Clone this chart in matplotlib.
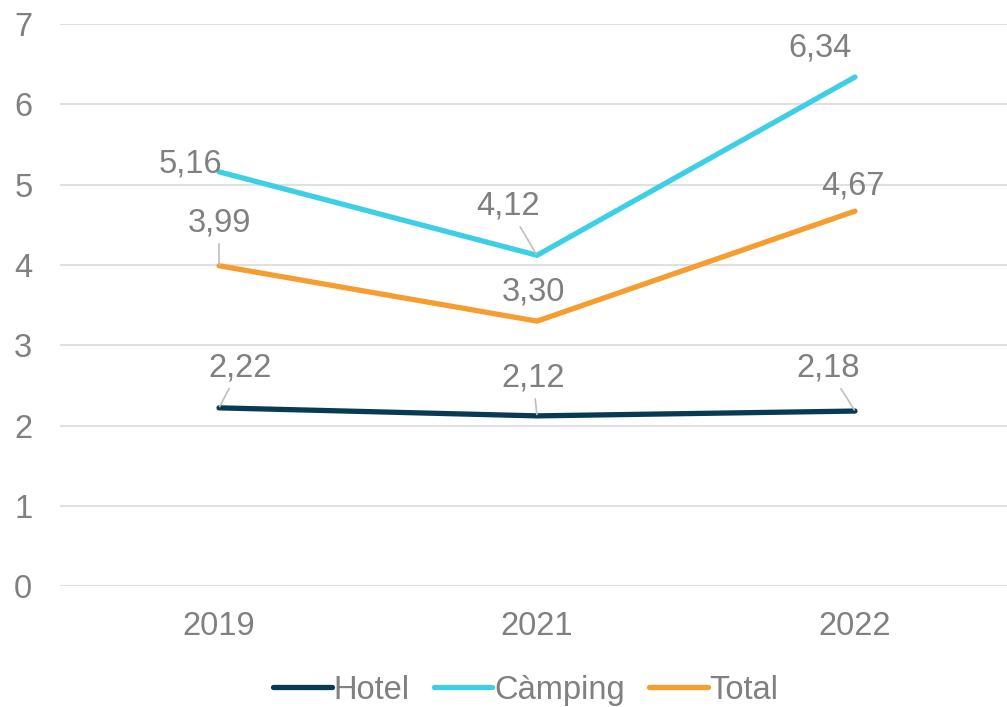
import matplotlib.pyplot as plt

plt.rcParams["font.family"] = ["Liberation Sans", "DejaVu Sans"]

years = ["2019", "2021", "2022"]
hotel = [2.22, 2.12, 2.18]
camping = [5.16, 4.12, 6.34]
total = [3.99, 3.30, 4.67]

series = [
    ("Hotel", hotel, "#073b52"),
    ("Càmping", camping, "#3ccfe6"),
    ("Total", total, "#f59d2f"),
]

# label offsets in pixels (dx, dy) and whether to draw a leader line
label_pos = {
    "Hotel": [(21, 40, True), (-4, 38, True), (-27, 43, True)],
    "Càmping": [(-29, 8, False), (-29, 49, True), (-35, 29, False)],
    "Total": [(0, 43, True), (-4, 29, False), (-2, 25, False)],
}

grey = "#808080"
fs = 23.5

fig = plt.figure(figsize=(10.07, 7.07), dpi=100)
ax = fig.add_axes([0.0596, 0.171, 0.9404, 0.795])

x = list(range(len(years)))
for name, vals, color in series:
    ax.plot(x, vals, color=color, lw=3.8, solid_capstyle="round",
            solid_joinstyle="miter", label=name, zorder=3)
    for xi, v, (dx, dy, leader) in zip(x, vals, label_pos[name]):
        arrow = None
        if leader:
            arrow = dict(arrowstyle="-", color="#bfbfbf", lw=1.2,
                         shrinkA=2, shrinkB=1)
        ax.annotate(f"{v:.2f}".replace(".", ","), (xi, v),
                    xytext=(dx, dy), textcoords="offset pixels",
                    ha="center", va="center", fontsize=fs, color=grey,
                    arrowprops=arrow, zorder=4)

ax.set_xlim(-0.5, 2.478)
ax.set_ylim(0, 7)
ax.set_xticks(x)
ax.set_xticklabels(years)
ax.set_yticks(range(0, 8))
ax.tick_params(axis="both", length=0, labelsize=fs, labelcolor=grey)
ax.tick_params(axis="x", pad=18)
ax.tick_params(axis="y", pad=33)
for lab in ax.get_yticklabels():
    lab.set_horizontalalignment("left")
ax.yaxis.grid(True, color="#e0e0e0", lw=1.5)
ax.set_axisbelow(True)
for s in ax.spines.values():
    s.set_visible(False)

fig.legend(loc="lower center", bbox_to_anchor=(0.522, -0.04), ncol=3,
           frameon=False, fontsize=fs, labelcolor=grey, handlelength=1.8,
           handletextpad=0.05, columnspacing=0.75)

fig.savefig("out.png", dpi=100)
